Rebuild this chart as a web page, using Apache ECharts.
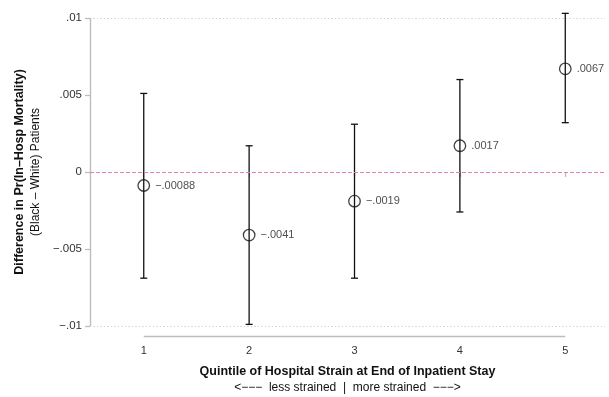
<!DOCTYPE html>
<html>
<head>
<meta charset="utf-8">
<script src="https://cdn.jsdelivr.net/npm/echarts@6/dist/echarts.min.js"></script>
<style>
  html, body { margin: 0; padding: 0; background: #fff; }
  #chart { width: 609px; height: 397px; }
</style>
</head>
<body>
<div id="chart"></div>
<script>
// Black–White difference in in-hospital mortality, by hospital strain quintile
const quintiles = [1, 2, 3, 4, 5];
const estimates = [-0.00088, -0.0041, -0.0019, 0.0017, 0.0067];
const ciLower = [-0.0069, -0.0099, -0.0069, -0.0026, 0.0032];
const ciUpper = [0.0051, 0.0017, 0.0031, 0.0060, 0.0103];
const yTicks = [-0.01, -0.005, 0, 0.005, 0.01];
const xTicks = [1, 2, 3, 4, 5];

const X_MIN = 0.49, X_MAX = 5.377;
const Y_MIN = -0.0107, Y_MAX = 0.0107;
const FONT = '"Liberation Sans", Arial, Helvetica, sans-serif';

// Stata-style number formatting: drop leading zero, use a minus sign
function fmt(v) {
  if (v === 0) return '0';
  const s = String(Math.abs(v)).replace(/^0\./, '.');
  return (v < 0 ? '\u2212' : '') + s;
}

const chart = echarts.init(document.getElementById('chart'), null, { renderer: 'canvas' });

const gridColor = '#d0d0d0';
const axisColor = '#bdbdbd';
const zeroColor = '#df7fb3';

const option = {
  animation: false,
  backgroundColor: '#ffffff',
  textStyle: { fontFamily: FONT },
  grid: { left: 90, right: 4, top: 7.2, bottom: 60.3, containLabel: false, outerBoundsMode: 'none' },
  xAxis: {
    type: 'value',
    min: X_MIN,
    max: X_MAX,
    axisLine: { show: false },
    splitLine: { show: false },
    axisTick: { show: true, customValues: xTicks, length: 5, lineStyle: { color: axisColor, width: 1.3 } },
    axisLabel: { customValues: xTicks, color: '#333', fontSize: 11, margin: 9, fontFamily: FONT },
    name: '{b|Quintile of Hospital Strain at End of Inpatient Stay}\n{n|<\u2212\u2212\u2212  less strained  |  more strained  \u2212\u2212\u2212>}',
    nameLocation: 'middle',
    nameGap: 27,
    nameTextStyle: {
      rich: {
        b: { fontWeight: 'bold', fontSize: 12.5, color: '#111', fontFamily: FONT, lineHeight: 16 },
        n: { fontSize: 12, color: '#111', fontFamily: FONT, lineHeight: 16 }
      }
    }
  },
  yAxis: {
    type: 'value',
    min: Y_MIN,
    max: Y_MAX,
    axisLine: { show: false },
    splitLine: { show: false },
    axisTick: { show: true, customValues: yTicks, length: 5, lineStyle: { color: axisColor, width: 1.3 } },
    axisLabel: { customValues: yTicks, formatter: fmt, color: '#333', fontSize: 11.5, margin: 8, fontFamily: FONT },
    name: '{b|Difference in Pr(In\u2013Hosp Mortality)}\n{n|(Black \u2013 White) Patients}',
    nameLocation: 'middle',
    nameRotate: 90,
    nameGap: 44,
    nameTextStyle: {
      rich: {
        b: { fontWeight: 'bold', fontSize: 12.5, color: '#111', fontFamily: FONT, lineHeight: 16 },
        n: { fontSize: 12, color: '#111', fontFamily: FONT, lineHeight: 16 }
      }
    }
  },
  series: [
    {
      // dotted grid lines and the two axis lines
      type: 'scatter',
      data: [],
      silent: true,
      markLine: {
        silent: true,
        symbol: ['none', 'none'],
        label: { show: false },
        animation: false,
        lineStyle: { color: gridColor, type: [1, 2.5], width: 1 },
        data: yTicks.filter(v => v !== 0).map(v => ({ yAxis: v })).concat([
          [
            { coord: [xTicks[0], Y_MIN], lineStyle: { color: axisColor, type: 'solid', width: 1.4 } },
            { coord: [xTicks[xTicks.length - 1], Y_MIN] }
          ],
          [
            { coord: [X_MIN, yTicks[0]], lineStyle: { color: axisColor, type: 'solid', width: 1.4 } },
            { coord: [X_MIN, yTicks[yTicks.length - 1]] }
          ]
        ])
      }
    },
    {
      // zero reference line
      type: 'scatter',
      data: [],
      silent: true,
      markLine: {
        silent: true,
        symbol: ['none', 'none'],
        label: { show: false },
        animation: false,
        lineStyle: { color: zeroColor, type: [4, 2], width: 1 },
        data: [{ yAxis: 0 }]
      }
    },
    {
      // confidence intervals with end caps
      type: 'custom',
      data: quintiles.map((q, i) => [q, ciLower[i], ciUpper[i]]),
      renderItem: function (params, api) {
        const lo = api.coord([api.value(0), api.value(1)]);
        const hi = api.coord([api.value(0), api.value(2)]);
        const cap = 3.5;
        const style = { stroke: '#111', lineWidth: 1.3 };
        return {
          type: 'group',
          children: [
            { type: 'line', shape: { x1: lo[0], y1: lo[1], x2: hi[0], y2: hi[1] }, style: style },
            { type: 'line', shape: { x1: lo[0] - cap, y1: lo[1], x2: lo[0] + cap, y2: lo[1] }, style: style },
            { type: 'line', shape: { x1: hi[0] - cap, y1: hi[1], x2: hi[0] + cap, y2: hi[1] }, style: style }
          ]
        };
      },
      z: 3
    },
    {
      // point estimates
      type: 'scatter',
      data: quintiles.map((q, i) => [q, estimates[i]]),
      symbol: 'circle',
      symbolSize: 11.5,
      itemStyle: { color: 'rgba(0,0,0,0)', borderColor: '#111', borderWidth: 1.3 },
      label: {
        show: true,
        position: 'right',
        distance: 5,
        formatter: p => fmt(p.value[1]),
        color: '#222',
        fontSize: 11,
        fontFamily: FONT
      },
      z: 4
    }
  ]
};

chart.setOption(option);
</script>
</body>
</html>
